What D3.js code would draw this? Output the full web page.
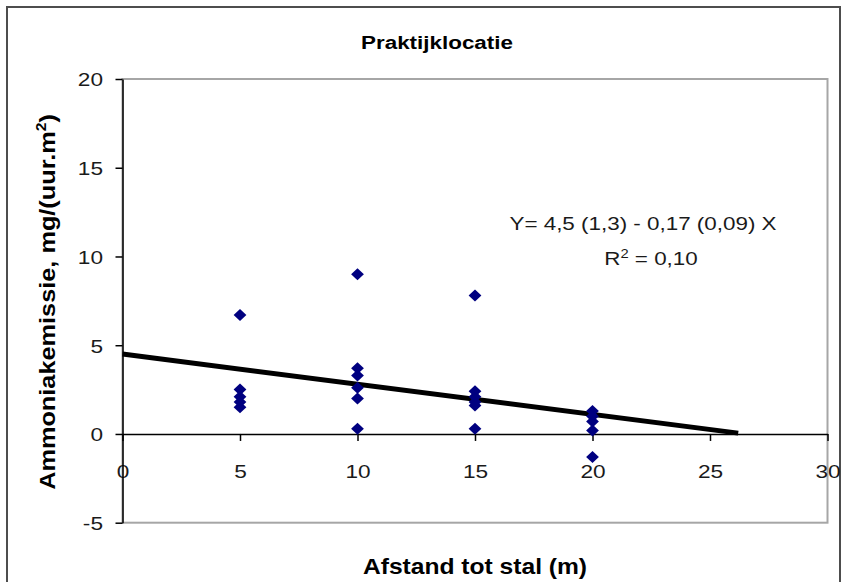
<!DOCTYPE html>
<html><head><meta charset="utf-8">
<script src="https://cdn.jsdelivr.net/npm/d3@7"></script>
<style>
html,body{margin:0;padding:0;background:#fff;}
svg{display:block;font-family:"Liberation Sans",Arial,sans-serif;}
</style></head>
<body><svg id="chart" width="847" height="582"></svg>
<script>
// ---- data ----
const chartTitle = "Praktijklocatie";
const xLabel = "Afstand tot stal (m)";
const distances = [5,5,5,5,5, 10,10,10,10,10,10, 15,15,15,15,15,15, 20,20,20,20,20];
const emissions = [6.7,2.5,2.1,1.8,1.5, 9.0,3.7,3.3,2.6,2.0,0.3, 7.8,2.4,2.1,1.8,1.6,0.3, 1.3,1.0,0.7,0.2,-1.3];
const xTicks = [0,5,10,15,20,25,30];
const yTicks = [-5,0,5,10,15,20];
const trendIntercept = 4.5;
const trendSlope = -0.17;
const trendRange = [0, 26.2];
const equationLines = ["Y= 4,5 (1,3) - 0,17 (0,09) X"];

// ---- layout ----
const svg = d3.select("#chart");
const SX = 1.18; // horizontal text stretch of reference
const L = 122.5, R = 827.5, T = 79, B = 522.7;
const x = d3.scaleLinear().domain([0,30]).range([L,R]);
const y = d3.scaleLinear().domain([-5,20]).range([B,T]);
const fmt = d => String(d);

// outer frame
svg.append("rect").attr("x",7).attr("y",7).attr("width",833).attr("height",600)
  .attr("fill","none").attr("stroke","#4d4d4d").attr("stroke-width",2);

// plot frame
svg.append("rect").attr("x",L).attr("y",T).attr("width",R-L).attr("height",B-T)
  .attr("fill","none").attr("stroke","#a6a6a6").attr("stroke-width",2);

// x axis at y=0
const xAxis = svg.append("g").attr("transform",`translate(0,${y(0)})`)
  .call(d3.axisBottom(x).tickValues(xTicks).tickSize(7).tickSizeOuter(0).tickFormat(fmt));
xAxis.select(".domain").attr("stroke","#000").attr("stroke-width",1.5);
xAxis.selectAll(".tick line").attr("stroke","#000").attr("stroke-width",1.5);
xAxis.selectAll(".tick text")
  .attr("x",null).attr("y",null).attr("dy",null)
  .attr("transform",`translate(0,${478 - y(0)}) scale(${SX},1)`)
  .attr("font-size",19.2).attr("font-family","Liberation Sans, Arial, sans-serif")
  .attr("fill","#1a1a1a").attr("text-anchor","middle");

// y axis
const yAxis = svg.append("g").attr("transform",`translate(${L},0)`)
  .call(d3.axisLeft(y).tickValues(yTicks).tickSize(7).tickSizeOuter(0).tickFormat(fmt));
yAxis.select(".domain").attr("stroke","#000").attr("stroke-width",1.5);
yAxis.selectAll(".tick line").attr("stroke","#000").attr("stroke-width",1.5);
yAxis.selectAll(".tick text")
  .attr("x",null).attr("dy",null)
  .attr("transform",`translate(-19.5,6.8) scale(${SX},1)`)
  .attr("font-size",19.2).attr("font-family","Liberation Sans, Arial, sans-serif")
  .attr("fill","#1a1a1a").attr("text-anchor","end");

// trend line
const trend = trendRange.map(v => [v, trendIntercept + trendSlope*v]);
svg.append("path").datum(trend)
  .attr("d", d3.line().x(d=>x(d[0])).y(d=>y(d[1])))
  .attr("stroke","#000").attr("stroke-width",5).attr("fill","none");

// points (diamonds)
const diamond = { draw(ctx, size){ const w=6.4, h=6.0; ctx.moveTo(0,-h); ctx.lineTo(w,0); ctx.lineTo(0,h); ctx.lineTo(-w,0); ctx.closePath(); } };
svg.append("g").selectAll("path").data(distances.map((d,i)=>[d,emissions[i]])).join("path")
  .attr("transform", d=>`translate(${x(d[0])},${y(d[1])})`)
  .attr("d", d3.symbol().type(diamond).size(100))
  .attr("fill","#000080");

// title
svg.append("text").attr("transform",`translate(437,48.5) scale(${SX},1)`)
  .attr("text-anchor","middle").attr("font-weight","bold").attr("font-size",19)
  .attr("fill","#000").text(chartTitle);

// x label
svg.append("text").attr("transform",`translate(475,573.5) scale(1.15,1)`)
  .attr("text-anchor","middle").attr("font-weight","bold").attr("font-size",21.4)
  .attr("fill","#000").text(xLabel);

// y label
const yl = svg.append("text").attr("transform",`translate(55,302) rotate(-90) scale(1.12,1)`)
  .attr("text-anchor","middle").attr("font-weight","bold").attr("font-size",22.6).attr("fill","#000");
yl.append("tspan").text("Ammoniakemissie, mg/(uur.m");
yl.append("tspan").attr("font-size",14).attr("dy",-9).text("2");
yl.append("tspan").attr("dy",9).text(")");

// equation
svg.append("text").attr("transform",`translate(643,230) scale(${SX},1)`)
  .attr("text-anchor","middle").attr("font-size",19).attr("fill","#1a1a1a").text(equationLines[0]);
const r2 = svg.append("text").attr("transform",`translate(651,265) scale(${SX},1)`)
  .attr("text-anchor","middle").attr("font-size",19).attr("fill","#1a1a1a");
r2.append("tspan").text("R");
r2.append("tspan").attr("font-size",12.5).attr("dy",-7.5).text("2");
r2.append("tspan").attr("dy",7.5).text(" = 0,10");
</script></body></html>
